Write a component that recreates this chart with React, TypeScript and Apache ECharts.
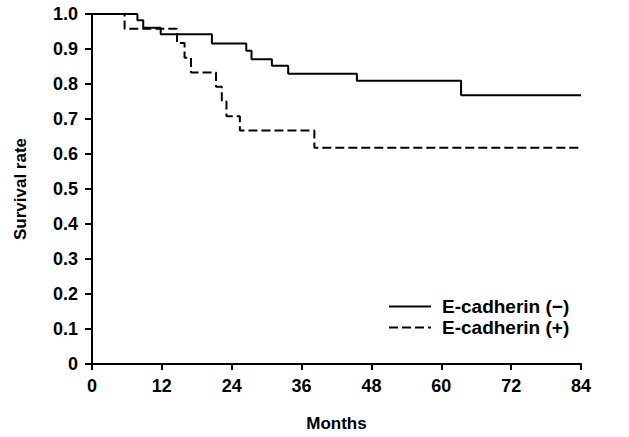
import React, { useEffect, useRef } from "react";
import * as echarts from "echarts";

const negTimes = [0, 7.8, 8.8, 11.8, 20.6, 26.5, 27.4, 30.9, 33.7, 45.5, 63.4, 84];
const negSurvival = [1.0, 0.982, 0.961, 0.942, 0.916, 0.895, 0.871, 0.852, 0.829, 0.809, 0.768, 0.768];

const posTimes = [0, 5.6, 14.6, 15.9, 17.0, 21.3, 22.3, 23.1, 25.4, 38.2, 84];
const posSurvival = [1.0, 0.958, 0.917, 0.875, 0.833, 0.792, 0.75, 0.708, 0.667, 0.618, 0.618];

const seriesNames = ["E-cadherin (\u2212)", "E-cadherin (+)"];
const xTicks = [0, 12, 24, 36, 48, 60, 72, 84];
const yTickLabels = ["0", "0.1", "0.2", "0.3", "0.4", "0.5", "0.6", "0.7", "0.8", "0.9", "1.0"];

const FONT = "Liberation Sans, Arial, sans-serif";

export default function App() {
  const ref = useRef<HTMLDivElement>(null);
  useEffect(() => {
    if (!ref.current) return;
    const chart = echarts.init(ref.current, null, { renderer: "svg" });
    const neg = negTimes.map((t, i) => [t, negSurvival[i]]);
    const pos = posTimes.map((t, i) => [t, posSurvival[i]]);
    const axisCommon = {
      axisLine: { show: true, lineStyle: { color: "#000", width: 2 } },
      axisTick: { show: true, inside: false, lineStyle: { color: "#000", width: 2 } },
      splitLine: { show: false },
    };
    chart.setOption({
      animation: false,
      backgroundColor: "#fff",
      grid: { left: 92, right: 48, top: 14, bottom: 70, containLabel: false },
      legend: {
        orient: "vertical",
        left: 388,
        top: 297,
        padding: 0,
        itemWidth: 42,
        itemHeight: 14,
        itemGap: 2,
        data: seriesNames,
        itemStyle: { color: "rgba(0,0,0,0)", borderColor: "rgba(0,0,0,0)", borderWidth: 0 },
        textStyle: {
          fontFamily: FONT,
          fontSize: 19,
          lineHeight: 14,
          fontWeight: "bold",
          color: "#000",
          padding: [0, 0, 0, 6],
        },
      },
      xAxis: {
        type: "value",
        min: 0,
        max: 84,
        interval: 12,
        ...axisCommon,
        axisTick: { ...axisCommon.axisTick, length: 6 },
        axisLabel: {
          margin: 13,
          color: "#000",
          fontFamily: FONT,
          fontSize: 18,
          fontWeight: "bold",
          formatter: (v: number) => (xTicks.includes(v) ? String(v) : ""),
        },
        name: "Months",
        nameLocation: "middle",
        nameGap: 51,
        nameTextStyle: { color: "#000", fontFamily: FONT, fontSize: 17, fontWeight: "bold", verticalAlign: "top" },
      },
      yAxis: {
        type: "value",
        min: 0,
        max: 1,
        interval: 0.1,
        ...axisCommon,
        axisTick: { ...axisCommon.axisTick, length: 7 },
        axisLabel: {
          margin: 14,
          color: "#000",
          fontFamily: FONT,
          fontSize: 18,
          fontWeight: "bold",
          formatter: (v: number) => yTickLabels[Math.round(v * 10)] ?? "",
        },
        name: "Survival rate",
        nameLocation: "middle",
        nameRotate: 90,
        nameGap: 63,
        nameTextStyle: { color: "#000", fontFamily: FONT, fontSize: 17, fontWeight: "bold" },
      },
      series: [
        {
          name: seriesNames[0],
          type: "line",
          step: "end",
          data: neg,
          symbol: "none",
          lineStyle: { color: "#000", width: 2, type: "solid" },
          itemStyle: { color: "#000" },
          z: 3,
        },
        {
          name: seriesNames[1],
          type: "line",
          step: "end",
          data: pos,
          symbol: "none",
          lineStyle: { color: "#000", width: 2, type: [9, 4] },
          itemStyle: { color: "#000" },
          z: 2,
        },
      ],
    });
    return () => chart.dispose();
  }, []);
  return (
    <div
      ref={ref}
      style={{ position: "fixed", left: 0, top: 0, width: 629, height: 437, background: "#fff" }}
    />
  );
}
